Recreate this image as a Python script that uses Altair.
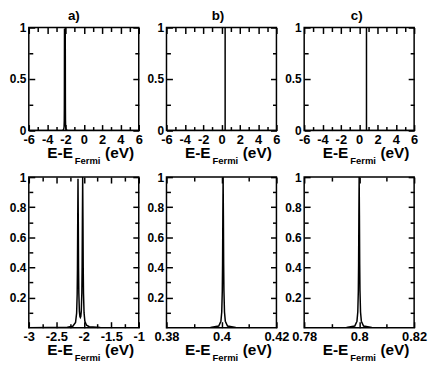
import altair as alt
import pandas as pd

# ---- data ----
a_x = [-6, -3, -2.3, -2.2, -2.15, -2.13, -2.12, -2.115, -2.11, -2.105, -2.1, -2.095, -2.09, -2.08, -2.07,
       -2.0625, -2.055, -2.045, -2.035, -2.03, -2.025, -2.02, -2.015, -2.01, -2.005, -1.995, -1.98,
       -1.95, -1.9, -1.7, -1, 6]
a_y = [0.0, 0.0, 0.003, 0.009, 0.034, 0.096, 0.223, 0.389, 0.713, 0.989, 0.715, 0.393, 0.230, 0.108, 0.074,
       0.068, 0.074, 0.110, 0.234, 0.401, 0.729, 1.0, 0.727, 0.397, 0.227, 0.098, 0.042,
       0.016, 0.006, 0.001, 0.0, 0.0]

b_x = [-6, 0.38, 0.396, 0.399, 0.3998, 0.4001, 0.4003, 0.4004, 0.4005, 0.4006, 0.4007, 0.4008, 0.4009,
       0.4011, 0.4014, 0.4022, 0.4052, 0.42, 6]
b_y = [0.0, 0.0, 0.001, 0.011, 0.043, 0.104, 0.243, 0.42, 0.743, 1.0, 0.743, 0.42, 0.243,
       0.104, 0.043, 0.011, 0.001, 0.0, 0.0]

c_x = [-6, 0.78, 0.7954, 0.7984, 0.7992, 0.7995, 0.7997, 0.7998, 0.7999, 0.8, 0.8001, 0.8002, 0.8003,
       0.8005, 0.8008, 0.8016, 0.8046, 0.82, 6]
c_y = [0.0, 0.0, 0.001, 0.011, 0.043, 0.104, 0.243, 0.42, 0.743, 1.0, 0.743, 0.42, 0.243,
       0.104, 0.043, 0.011, 0.001, 0.0, 0.0]

panel_titles = ["a)", "b)", "c)"]

top_x_domain = [-6, 6]
top_x_major = [-6, -4, -2, 0, 2, 4, 6]
top_x_minor = [-5, -3, -1, 1, 3, 5]
top_y_major = [0, 0.5, 1]
top_y_minor = [0.25, 0.75]

bot_a_domain = [-3, -1]
bot_a_major = [-3, -2.5, -2, -1.5, -1]
bot_a_minor = [-2.75, -2.25, -1.75, -1.25]
bot_b_domain = [0.38, 0.42]
bot_b_major = [0.38, 0.4, 0.42]
bot_b_minor = [0.39, 0.41]
bot_c_domain = [0.78, 0.82]
bot_c_major = [0.78, 0.8, 0.82]
bot_c_minor = [0.79, 0.81]
bot_y_major = [0.2, 0.4, 0.6, 0.8, 1]
bot_y_minor = [0.1, 0.3, 0.5, 0.7, 0.9]

FONT = "Liberation Sans"


def panel(xs, ys, xdom, ydom, xmaj, xmin, ymaj, ymin, W, H, title=None, title_dx=0):
    df = pd.DataFrame({"E": xs, "DOS": ys})
    xsc = alt.Scale(domain=xdom, nice=False, zero=False)
    ysc = alt.Scale(domain=ydom, nice=False, zero=False)
    lab = dict(ticks=False, domain=False, grid=False, title=None,
               labelExpr="'' + datum.value", labelFont=FONT,
               labelFontWeight="bold", labelColor="black", labelFlush=False,
               labelOverlap=False)
    xax = alt.Axis(orient="bottom", values=xmaj, labelPadding=3, labelFontSize=13, **lab)
    yax = alt.Axis(orient="left", values=ymaj, labelPadding=3, labelFontSize=12, **lab)
    line = alt.Chart(df).mark_line(color="black", strokeWidth=1.5, clip=True).encode(
        x=alt.X("E:Q", scale=xsc, axis=xax),
        y=alt.Y("DOS:Q", scale=ysc, axis=yax),
    )
    layers = [line]

    def tick_axis(orient, vals, L):
        return alt.Axis(orient=orient, values=vals, offset=-L, tickSize=L, tickWidth=1.5,
                        tickColor="black", tickOpacity=1, labels=False, domain=False,
                        grid=False, title=None, zindex=1)

    ghost = alt.Chart(df).mark_line(strokeOpacity=0, clip=True)
    for orient in ["bottom", "top"]:
        for vals, L in [(xmaj, 6), (xmin, 4)]:
            layers.append(ghost.encode(
                x=alt.X("E:Q", scale=xsc, axis=tick_axis(orient, vals, L)),
                y=alt.Y("DOS:Q", scale=ysc, axis=None)))
    for orient in ["left", "right"]:
        for vals, L in [(ymaj, 6), (ymin, 4)]:
            layers.append(ghost.encode(
                x=alt.X("E:Q", scale=xsc, axis=None),
                y=alt.Y("DOS:Q", scale=ysc, axis=tick_axis(orient, vals, L))))

    one = pd.DataFrame({"k": [0]})
    tx = dict(font=FONT, fontWeight="bold", color="black", baseline="alphabetic")
    layers.append(alt.Chart(one).mark_text(text="E-E", align="right", fontSize=15.5, **tx)
                  .encode(x=alt.value(W / 2 - 11), y=alt.value(H + 28)))
    layers.append(alt.Chart(one).mark_text(text="Fermi", align="left", fontSize=9.5, **tx)
                  .encode(x=alt.value(W / 2 - 9), y=alt.value(H + 34)))
    layers.append(alt.Chart(one).mark_text(text="(eV)", align="left", fontSize=15.5, **tx)
                  .encode(x=alt.value(W / 2 + 21.5), y=alt.value(H + 28)))
    if title:
        layers.append(alt.Chart(one).mark_text(text=title, align="center", fontSize=13.5, **tx)
                      .encode(x=alt.value(W / 2 + title_dx), y=alt.value(-8)))
    return alt.layer(*layers).resolve_axis(x="independent", y="independent").properties(width=W, height=H)


W = 111
H1, H2 = 104, 152
panels = [
    panel(a_x, a_y, top_x_domain, [0, 1], top_x_major, top_x_minor, top_y_major, top_y_minor, W, H1, panel_titles[0], -10),
    panel(b_x, b_y, top_x_domain, [0, 1], top_x_major, top_x_minor, top_y_major, top_y_minor, W, H1, panel_titles[1], -3.5),
    panel(c_x, c_y, top_x_domain, [0, 1], top_x_major, top_x_minor, top_y_major, top_y_minor, W, H1, panel_titles[2], -2.5),
    panel(a_x, a_y, bot_a_domain, [0, 1], bot_a_major, bot_a_minor, bot_y_major, bot_y_minor, W, H2),
    panel(b_x, b_y, bot_b_domain, [0, 1], bot_b_major, bot_b_minor, bot_y_major, bot_y_minor, W, H2),
    panel(c_x, c_y, bot_c_domain, [0, 1], bot_c_major, bot_c_minor, bot_y_major, bot_y_minor, W, H2),
]
chart = alt.concat(*panels, columns=3, spacing={"row": 47, "column": 28}, bounds="flush").properties(
    padding={"left": 0, "top": -2, "right": 0, "bottom": 0}
).configure_view(stroke="black", strokeWidth=1.5)

chart.save("out.html", embed_options={"renderer": "svg", "actions": False})
